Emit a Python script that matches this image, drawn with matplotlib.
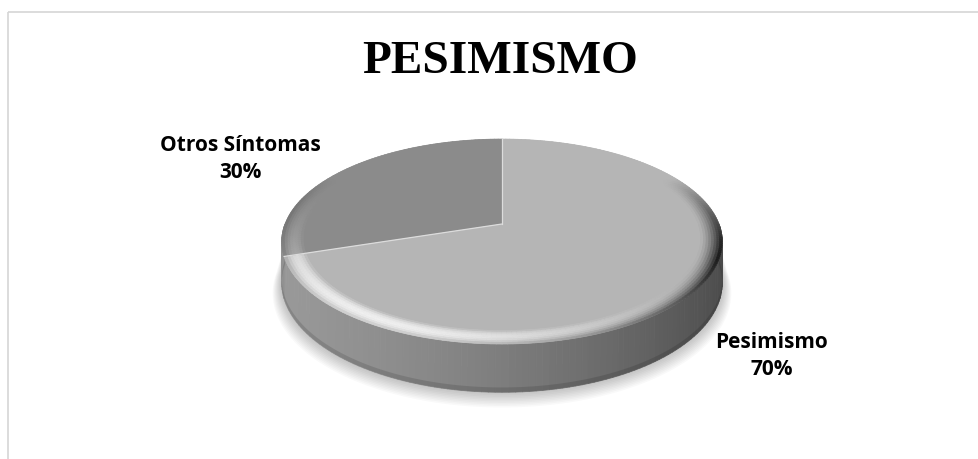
import numpy as np
import matplotlib
matplotlib.use("Agg")
import matplotlib.pyplot as plt
from matplotlib.collections import PolyCollection
from matplotlib.patches import Polygon, Rectangle
from matplotlib.colors import to_rgb

# ---- data ----
labels = ["Pesimismo", "Otros Síntomas"]
values = [70, 30]
top_colors = ["#b5b5b5", "#8b8b8b"]
label_pos = [(772, 356), (240, 159)]      # pixel centres of the data labels
title = "PESIMISMO"

# ---- 3d pie geometry (pixel space, y grows downward) ----
W, H = 979, 460
CX, CY = 502, 225      # where the slices meet
RX, RY = 217, 99.5
P = 0.171              # perspective: back of the disc is smaller than the front
DEPTH = 40
LIGHT = np.array([-0.35, -0.55, 0.75])
LIGHT = LIGHT / np.linalg.norm(LIGHT)


def proj(u, v, z=0.0):
    s = 1.0 / (1.0 + P * v)
    return CX + RX * u * s, CY - RY * v * s + DEPTH * z * s


def pt(theta, r=1.0, z=0.0):
    t = np.radians(theta)
    return proj(r * np.cos(t), r * np.sin(t), z)


# slice angle ranges, clockwise from 12 o'clock like a spreadsheet pie
fracs = np.array(values, dtype=float) / sum(values)
spans = []
start = 90.0
for f in fracs:
    end = start - f * 360.0
    spans.append((end, start))
    start = end

fig = plt.figure(figsize=(W / 100, H / 100), dpi=100)
ax = fig.add_axes([0, 0, 1, 1])
ax.set_xlim(0, W)
ax.set_ylim(H, 0)
ax.axis("off")

# chart frame (continues past the right and bottom edges)
ax.add_patch(Rectangle((8.5, 12.5), 1100, 600, fill=False, ec="#d6d6d6", lw=1.2))

# soft shadow below the disc
ang = np.linspace(-180, 0, 200)
for k in range(1, 11):
    bot = [pt(a, 1.0 + 0.004 * k, 1.0) for a in ang]
    bot = [(x, y + k * 0.9) for x, y in bot]
    top = [pt(a, 1.0, 0.5) for a in ang[::-1]]
    ax.add_patch(Polygon(bot + top, closed=True, fc="#000000", ec="none", alpha=0.025, zorder=1))

# side wall, drawn as vertical strips over the visible front half
side_polys, side_cols = [], []
for i, (a0, a1) in enumerate(spans):
    for seg_a0 in np.arange(180, 360, 1.5):
        seg_a1 = seg_a0 + 1.5
        mid = (seg_a0 + seg_a1) / 2
        # keep only the strips that belong to this slice
        if not (a0 <= mid - 360 <= a1 or a0 <= mid <= a1):
            continue
        q = [pt(seg_a0), pt(seg_a1), pt(seg_a1, z=1), pt(seg_a0, z=1)]
        u = np.cos(np.radians(mid))
        g = 0.60 - 0.31 * ((u + 1) / 2) ** 1.5
        if i == 1:
            g -= 0.03
        side_polys.append(q)
        side_cols.append((g, g, g))
ax.add_collection(PolyCollection(side_polys, facecolors=side_cols, edgecolors=side_cols,
                                 linewidths=0.6, zorder=2))

# darker lip along the bottom of the wall
lip = [pt(a, 1.0, 0.9) for a in ang] + [pt(a, 1.0, 1.0) for a in ang[::-1]]
ax.add_patch(Polygon(lip, closed=True, fc="#000000", ec="none", alpha=0.12, zorder=2.5))

# top faces
for (a0, a1), col in zip(spans, top_colors):
    arc = [pt(a) for a in np.linspace(a0, a1, 200)]
    ax.add_patch(Polygon([(CX, CY)] + arc, closed=True, fc=col, ec="none", zorder=3))

# rounded bevel around the rim of the top faces
bev_polys, bev_cols = [], []
radii = np.linspace(0.905, 1.0, 9)
for (a0, a1), col in zip(spans, top_colors):
    base = np.array(to_rgb(col))
    angs = np.linspace(a0, a1, int(abs(a1 - a0) / 1.2) + 2)
    for j in range(len(angs) - 1):
        t0, t1 = angs[j], angs[j + 1]
        tm = np.radians((t0 + t1) / 2)
        w = np.clip(0.6 - 1.2 * np.sin(tm), 0, 1)
        for k in range(len(radii) - 1):
            r0, r1 = radii[k], radii[k + 1]
            phi = np.radians(75 * ((r0 + r1) / 2 - radii[0]) / (1 - radii[0]))
            n = np.array([np.sin(phi) * np.cos(tm), np.sin(phi) * np.sin(tm), np.cos(phi)])
            fac = max(n @ LIGHT, 0.0) / LIGHT[2]
            c = np.clip(base * (1 + w * (fac - 1)), 0, 1)
            bev_polys.append([pt(t0, r0), pt(t1, r0), pt(t1, r1), pt(t0, r1)])
            bev_cols.append(tuple(c))
ax.add_collection(PolyCollection(bev_polys, facecolors=bev_cols, edgecolors=bev_cols,
                                 linewidths=0.5, zorder=4))

# thin light seams between slices
for a0, a1 in spans:
    x, y = pt(a1)
    ax.plot([CX, x], [CY, y], color="#dcdcdc", lw=0.9, zorder=5)

# labels
for (lx, ly), name, v in zip(label_pos, labels, values):
    ax.text(lx, ly, f"{name}\n{v}%", ha="center", va="center", fontsize=15,
            fontweight="bold", family="Open Sans", color="#000000", linespacing=1.35, zorder=6)

ax.text(500, 62, title, ha="center", va="center", fontsize=34, fontweight="bold",
        family="Liberation Serif", color="#000000", zorder=6)

fig.savefig("out.png", dpi=100, facecolor="white")
